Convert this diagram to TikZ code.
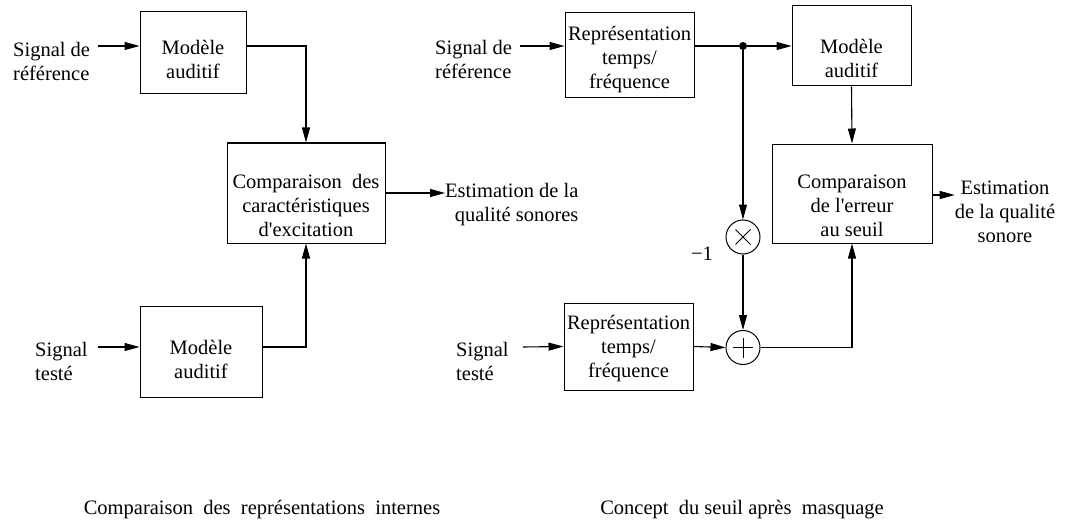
\documentclass[tikz,border=0pt]{standalone}
\usepackage{fontspec}
\setmainfont{Liberation Serif}
\usetikzlibrary{arrows.meta}
% 文字在方框里稍微往下放
\newcommand{\boite}[2]{\raisebox{#1}[0pt][0pt]{\begin{tabular}{@{}c@{}}#2\end{tabular}}}
\tikzset{
    bloc/.style={draw, line width=1pt, inner sep=0pt},
    fleche/.style={-{Triangle[length=15pt,width=8pt]}, line width=1.1pt},
    lien/.style={line width=1.1pt},
    texte/.style={inner sep=0pt, align=left},
    somme/.style={draw, circle, line width=1pt, minimum size=34pt, inner sep=0pt},
}
\begin{document}
\begin{tikzpicture}[
            x=1pt, y=-1pt,
            font=\fontsize{20.5}{24}\selectfont
        ]
            \useasboundingbox (0,0) rectangle (1073,524);

            % 左边: 内部表示的比较
            \node[texte, anchor=west] (inLh) at (13,61) {Signal de\\référence};
            \node[texte, anchor=west] (inLb) at (35,361) {Signal\\testé};
            \node[bloc, minimum width=106pt, minimum height=82pt] (refL) at (193,53) {\boite{-13.5pt}{Modèle\\auditif}};
            \node[bloc, minimum width=122pt, minimum height=91pt] (tstL) at (201,351.5) {\boite{-15pt}{Modèle\\auditif}};
            \node[bloc, minimum width=158pt, minimum height=100pt] (cmpL) at (306,193) {\boite{-20pt}{Comparaison\ \ des\\caractéristiques\\d\textquotesingle excitation}};
            \node[texte, align=right, anchor=west] (outL) at (445,205) {Estimation de la\\qualité sonores};

            \draw[fleche] ([xshift=8pt,yshift=15pt]inLh.east) -- ([yshift=7pt]refL.west);
            \draw[fleche] ([xshift=10pt,yshift=14pt]inLb.east) -- ([yshift=4.5pt]tstL.west);
            \draw[fleche] ([yshift=7pt]refL.east) -| (cmpL.north);
            \draw[fleche] ([yshift=4.5pt]tstL.east) -| (cmpL.south);
            \draw[fleche] (cmpL.east) -- (cmpL.east -| outL.west);

            % 右边: 掩蔽后的阈值
            \node[texte, anchor=west] (inRh) at (435,59) {Signal de\\référence};
            \node[texte, anchor=west] (inRb) at (456,361) {Signal\\testé};
            \node[bloc, minimum width=129pt, minimum height=85pt] (tfRh) at (629.5,55.5) {\boite{-9.5pt}{Représentation\\temps/\\fréquence}};
            \node[bloc, minimum width=129pt, minimum height=87pt] (tfRb) at (628.5,346.5) {\boite{-7.5pt}{Représentation\\temps/\\fréquence}};
            \node[circle, fill, inner sep=0pt, minimum size=8pt] (dot) at (743,46) {};
            \node[bloc, minimum width=119pt, minimum height=80pt] (modR) at (851.5,46) {\boite{-19.5pt}{Modèle\\auditif}};
            \node[bloc, minimum width=160pt, minimum height=99pt] (cmpR) at (852,193.5) {\boite{-19.5pt}{Comparaison\\de l\textquotesingle erreur\\au seuil}};
            \node[somme, path picture={
                \draw[line width=1pt] ([shift={(-7.5,-7.5)}]path picture bounding box.center) -- ([shift={(7.5,7.5)}]path picture bounding box.center);
                \draw[line width=1pt] ([shift={(-7.5,7.5)}]path picture bounding box.center) -- ([shift={(7.5,-7.5)}]path picture bounding box.center);
            }] (mult) at (743,237) {};
            \node[somme, path picture={
                \draw[line width=1pt] ([xshift=-10pt]path picture bounding box.center) -- ([xshift=10pt]path picture bounding box.center);
                \draw[line width=1pt] ([yshift=-10pt]path picture bounding box.center) -- ([yshift=10pt]path picture bounding box.center);
            }] (add) at (743,347.5) {};
            \node[inner sep=0pt] (moins) at (702,254) {−1};
            \node[texte, align=center] (outR) at (1005,212) {Estimation\\de la qualité\\sonore};

            \draw[fleche] ([xshift=8pt,yshift=13pt]inRh.east) -- ([yshift=9.5pt]tfRh.west);
            \draw[fleche] ([xshift=14pt,yshift=14pt]inRb.east) -- (tfRb.west);
            \draw[lien] ([yshift=9.5pt]tfRh.east) -- (dot);
            \draw[fleche] (dot) -- (modR.west);
            \draw[fleche] (dot) -- (mult.north);
            \draw[fleche] (modR.south) -- (cmpR.north);
            \draw[fleche] (mult.south) -- (add.north);
            \draw[fleche] (tfRb.east) -- (add.west);
            \draw[fleche] (add.east) -| (cmpR.south);
            \draw[fleche] ([yshift=-1.5pt]cmpR.east) -- ([yshift=-1.5pt]cmpR.east -| outR.west);

            % 两个标题
            \node (capL) at (262,510) {Comparaison\ \ des\ \ représentations\ \ internes};
            \node (capR) at (742,510) {Concept\ \ du seuil après\ \ masquage};

        \end{tikzpicture}
\end{document}
